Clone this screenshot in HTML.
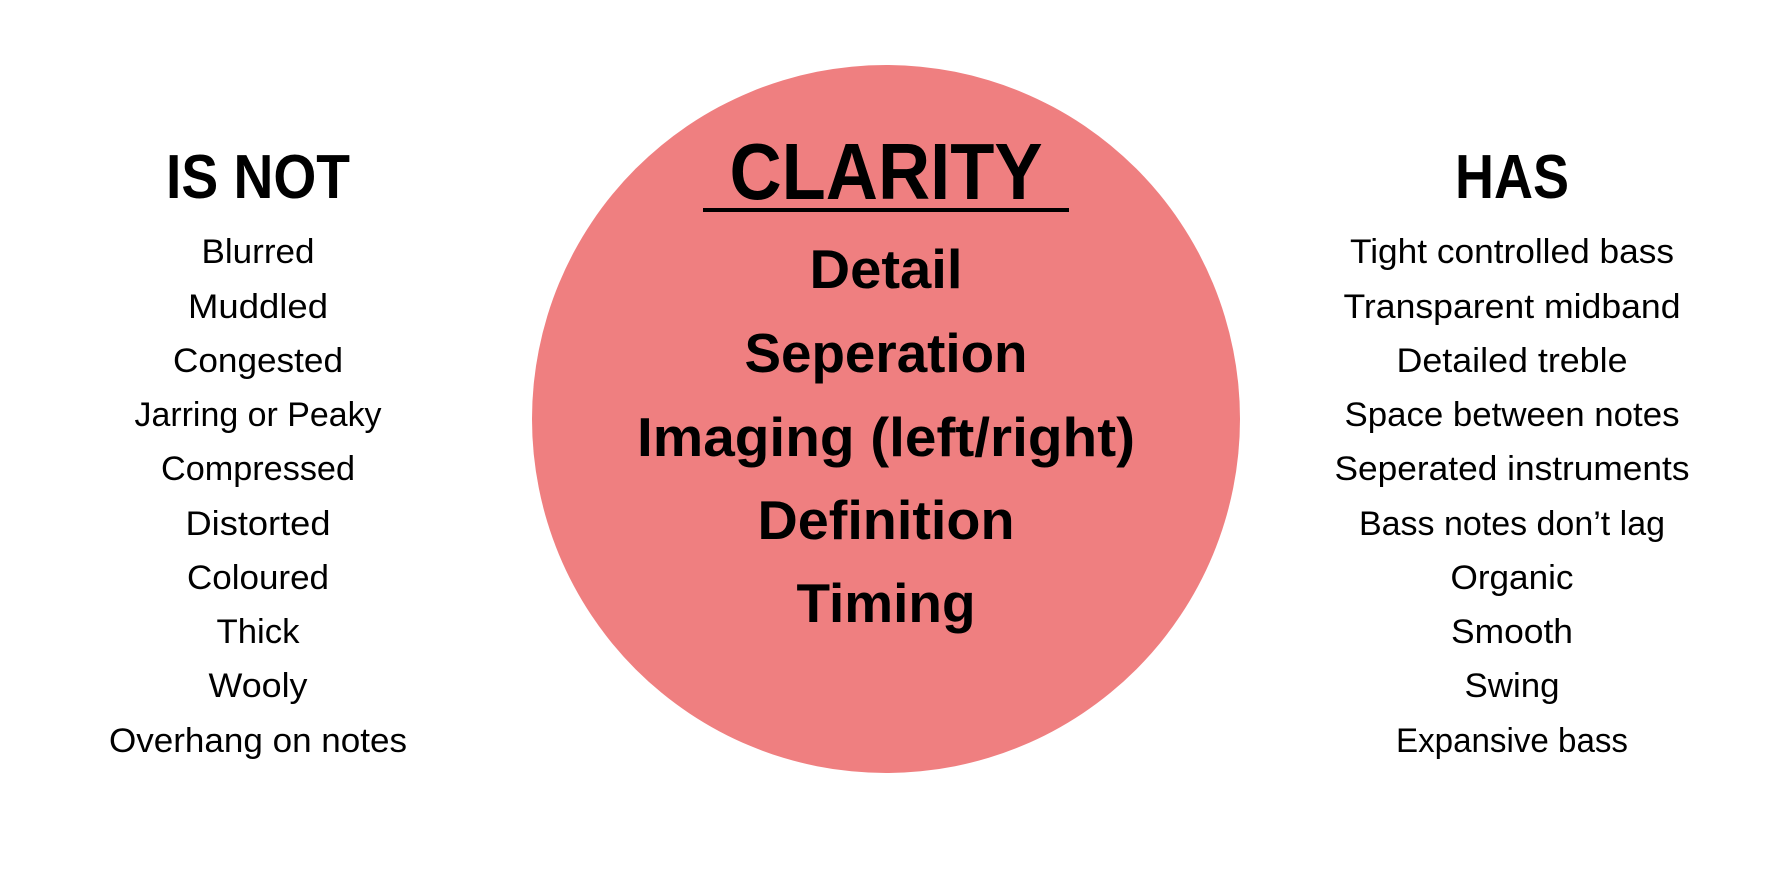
<!DOCTYPE html>
<html><head><meta charset="utf-8"><style>html,body{margin:0;padding:0;background:#fff;}svg{display:block}</style></head>
<body>
<svg width="1772" height="886" viewBox="0 0 1772 886" xmlns="http://www.w3.org/2000/svg" font-family="Liberation Sans, sans-serif">
<rect width="1772" height="886" fill="#fff"/>
<circle cx="886" cy="419" r="354" fill="#EF7F80"/>
<g text-anchor="middle" fill="#000" lengthAdjust="spacingAndGlyphs">
<text x="886" y="199" font-size="80" font-weight="bold" textLength="313" lengthAdjust="spacingAndGlyphs">CLARITY</text>
<rect x="703" y="208" width="366" height="4" fill="#000"/>
<g font-size="55" font-weight="bold">
<text x="886" y="288" textLength="153" lengthAdjust="spacingAndGlyphs">Detail</text>
<text x="886" y="372" textLength="283" lengthAdjust="spacingAndGlyphs">Seperation</text>
<text x="886" y="456" textLength="498" lengthAdjust="spacingAndGlyphs">Imaging (left/right)</text>
<text x="886" y="539" textLength="257" lengthAdjust="spacingAndGlyphs">Definition</text>
<text x="886" y="622" textLength="179" lengthAdjust="spacingAndGlyphs">Timing</text>
</g>
<text x="258" y="198" font-size="62" font-weight="bold" textLength="184" lengthAdjust="spacingAndGlyphs">IS NOT</text>
<text x="1512" y="198" font-size="62" font-weight="bold" textLength="114" lengthAdjust="spacingAndGlyphs">HAS</text>
<g font-size="34">
<text x="258" y="263" textLength="113" lengthAdjust="spacingAndGlyphs">Blurred</text>
<text x="258" y="318" textLength="140" lengthAdjust="spacingAndGlyphs">Muddled</text>
<text x="258" y="372" textLength="170" lengthAdjust="spacingAndGlyphs">Congested</text>
<text x="258" y="426" textLength="247" lengthAdjust="spacingAndGlyphs">Jarring or Peaky</text>
<text x="258" y="480" textLength="194" lengthAdjust="spacingAndGlyphs">Compressed</text>
<text x="258" y="535" textLength="145" lengthAdjust="spacingAndGlyphs">Distorted</text>
<text x="258" y="589" textLength="142" lengthAdjust="spacingAndGlyphs">Coloured</text>
<text x="258" y="643" textLength="83" lengthAdjust="spacingAndGlyphs">Thick</text>
<text x="258" y="697" textLength="99" lengthAdjust="spacingAndGlyphs">Wooly</text>
<text x="258" y="752" textLength="298" lengthAdjust="spacingAndGlyphs">Overhang on notes</text>
<text x="1512" y="263" textLength="324" lengthAdjust="spacingAndGlyphs">Tight controlled bass</text>
<text x="1512" y="318" textLength="337" lengthAdjust="spacingAndGlyphs">Transparent midband</text>
<text x="1512" y="372" textLength="231" lengthAdjust="spacingAndGlyphs">Detailed treble</text>
<text x="1512" y="426" textLength="335" lengthAdjust="spacingAndGlyphs">Space between notes</text>
<text x="1512" y="480" textLength="355" lengthAdjust="spacingAndGlyphs">Seperated instruments</text>
<text x="1512" y="535" textLength="306" lengthAdjust="spacingAndGlyphs">Bass notes don’t lag</text>
<text x="1512" y="589" textLength="123" lengthAdjust="spacingAndGlyphs">Organic</text>
<text x="1512" y="643" textLength="122" lengthAdjust="spacingAndGlyphs">Smooth</text>
<text x="1512" y="697" textLength="95" lengthAdjust="spacingAndGlyphs">Swing</text>
<text x="1512" y="752" textLength="232" lengthAdjust="spacingAndGlyphs">Expansive bass</text>
</g>
</g>
</svg>
</body></html>
